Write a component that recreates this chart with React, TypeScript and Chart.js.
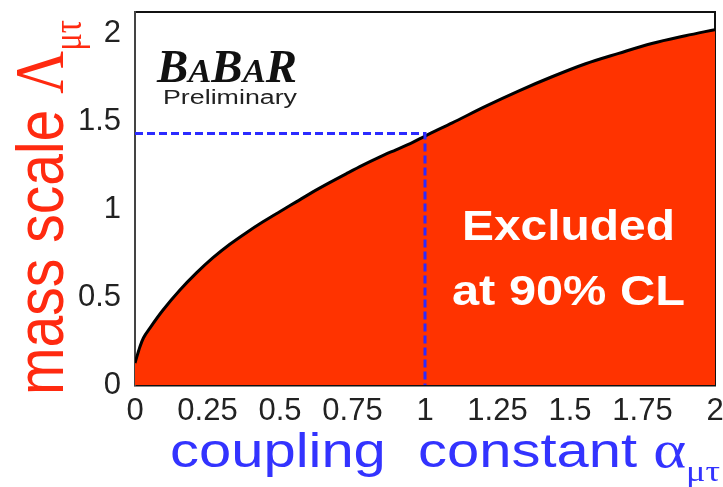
import React, { useEffect, useRef } from "react";
import { Chart, registerables } from "chart.js";

Chart.register(...registerables);

// Coupling constant alpha_mu-tau (x) and excluded mass-scale limit Lambda_mu-tau (y)
const alphaValues = [0, 0.017, 0.029, 0.052, 0.096, 0.155, 0.212, 0.268, 0.327, 0.384, 0.44, 0.499, 0.556, 0.612, 0.671, 0.728, 0.784, 0.843, 0.9, 0.956, 1.0, 1.094, 1.21, 1.324, 1.438, 1.554, 1.668, 1.782, 1.898, 2.0];
const lambdaLimit = [0.125, 0.218, 0.267, 0.325, 0.425, 0.54, 0.637, 0.722, 0.8, 0.866, 0.926, 0.985, 1.041, 1.096, 1.15, 1.2, 1.248, 1.295, 1.337, 1.378, 1.415, 1.49, 1.585, 1.672, 1.752, 1.826, 1.885, 1.941, 1.985, 2.02];

// Dashed guide: alpha = 1 -> Lambda
const guideAlpha = [0, 1, 1];
const guideLambda = [1.43, 1.43, 0];

// Axis ranges and tick steps
const xMin = 0;
const xMax = 2;
const yMin = 0;
const yMax = 2.12;
const xTickStep = 0.25;
const yTickStep = 0.5;

type Part = { text: string; font: string; dy?: number };

function drawParts(ctx: CanvasRenderingContext2D, parts: Part[], color: string, targetLen: number, sy: number) {
  let total = 0;
  const widths: number[] = [];
  for (const p of parts) {
    ctx.font = p.font;
    const w = ctx.measureText(p.text).width;
    widths.push(w);
    total += w;
  }
  const sx = targetLen / total;
  ctx.save();
  ctx.scale(sx, sy);
  ctx.fillStyle = color;
  ctx.textAlign = "left";
  ctx.textBaseline = "alphabetic";
  let x = 0;
  parts.forEach((p, i) => {
    ctx.font = p.font;
    ctx.fillText(p.text, x, p.dy || 0);
    x += widths[i];
  });
  ctx.restore();
}

const textPlugin = {
  id: "texts",
  afterDraw(chart: any) {
    const ctx: CanvasRenderingContext2D = chart.ctx;
    // BABAR logo
    ctx.save();
    ctx.translate(157, 82);
    const big = "italic bold 46px 'Liberation Serif', 'Times New Roman', serif";
    const small = "italic bold 34px 'Liberation Serif', 'Times New Roman', serif";
    drawParts(ctx, [
      { text: "B", font: big },
      { text: "A", font: small },
      { text: "B", font: big },
      { text: "A", font: small },
      { text: "R", font: big },
    ], "#111", 140, 1);
    ctx.restore();
    ctx.save();
    ctx.translate(163, 104);
    drawParts(ctx, [{ text: "Preliminary", font: "20px 'Liberation Sans', Arial, sans-serif" }], "#222", 134, 1);
    ctx.restore();

    // Excluded text
    ctx.save();
    ctx.translate(462, 240);
    drawParts(ctx, [{ text: "Excluded", font: "bold 42px 'Liberation Sans', Arial, sans-serif" }], "#ffffff", 213, 1);
    ctx.restore();
    ctx.save();
    ctx.translate(452, 305);
    drawParts(ctx, [{ text: "at 90% CL", font: "bold 42px 'Liberation Sans', Arial, sans-serif" }], "#ffffff", 233, 1);
    ctx.restore();

    // x title
    ctx.save();
    ctx.translate(170, 467);
    drawParts(ctx, [
      { text: "coupling  constant ", font: "48px 'Liberation Sans', Arial, sans-serif" },
      { text: "α", font: "52px 'Liberation Serif', 'Times New Roman', serif" },
      { text: "μτ", font: "30px 'Liberation Serif', 'Times New Roman', serif", dy: 14 },
    ], "#3333ff", 550, 1);
    ctx.restore();

    // y title (rotated)
    ctx.save();
    ctx.translate(63, 395);
    ctx.rotate(-Math.PI / 2);
    drawParts(ctx, [
      { text: "mass scale ", font: "52px 'Liberation Sans', Arial, sans-serif" },
      { text: "Λ", font: "54px 'Liberation Serif', 'Times New Roman', serif" },
      { text: "μτ", font: "30px 'Liberation Serif', 'Times New Roman', serif", dy: 14 },
    ], "#ff2a10", 375, 1.3);
    ctx.restore();
  },
};

const labelFont = { family: "'Liberation Sans', Arial, sans-serif", size: 31 };

const frameGrid = { display: true, drawOnChartArea: false, drawTicks: false };

export default function App() {
  const ref = useRef<HTMLCanvasElement>(null);
  useEffect(() => {
    const canvas = ref.current;
    if (!canvas) return;
    const limitData = alphaValues.map((a, i) => ({ x: a, y: lambdaLimit[i] }));
    const guideData = guideAlpha.map((a, i) => ({ x: a, y: guideLambda[i] }));
    const fmt = (v: any) => String(Math.round(Number(v) * 100) / 100);
    const chart = new Chart(canvas, {
      type: "line",
      data: {
        datasets: [
          {
            data: guideData,
            borderColor: "#2b2bff",
            borderWidth: 3,
            borderDash: [8, 4],
            pointRadius: 0,
            fill: false,
            order: 0,
            xAxisID: "x",
            yAxisID: "y",
          } as any,
          {
            data: limitData,
            borderColor: "#000",
            borderWidth: 3,
            backgroundColor: "#ff3300",
            fill: "origin",
            pointRadius: 0,
            cubicInterpolationMode: "monotone",
            order: 1,
            xAxisID: "x",
            yAxisID: "y",
          } as any,
        ],
      },
      options: {
        animation: false,
        responsive: false,
        events: [],
        layout: { padding: { top: 12, right: 8, left: 0, bottom: 0 } },
        plugins: { legend: { display: false }, tooltip: { enabled: false } },
        scales: {
          x: {
            type: "linear",
            position: "bottom",
            min: xMin,
            max: xMax,
            grid: frameGrid,
            border: { display: true, color: "#111", width: 2.5 },
            ticks: {
              stepSize: xTickStep,
              autoSkip: false,
              maxRotation: 0,
              padding: 8,
              color: "#222",
              font: labelFont,
              callback: fmt,
            },
            afterFit: (s: any) => {
              s.height = 102;
              s.paddingLeft = 0;
              s.paddingRight = 0;
            },
          },
          xTop: {
            type: "linear",
            axis: "x",
            position: "top",
            min: xMin,
            max: xMax,
            grid: frameGrid,
            border: { display: true, color: "#111", width: 2 },
            ticks: { display: false, stepSize: xTickStep },
          },
          y: {
            type: "linear",
            position: "left",
            min: yMin,
            max: yMax,
            grid: frameGrid,
            border: { display: true, color: "#444", width: 2 },
            ticks: {
              stepSize: yTickStep,
              includeBounds: false,
              padding: 14,
              color: "#222",
              font: labelFont,
              callback: fmt,
            },
            afterFit: (s: any) => {
              s.width = 135;
              s.paddingTop = 0;
              s.paddingBottom = 0;
            },
          },
          yRight: {
            type: "linear",
            axis: "y",
            position: "right",
            min: yMin,
            max: yMax,
            grid: frameGrid,
            border: { display: true, color: "#111", width: 2 },
            ticks: { display: false, stepSize: yTickStep },
          },
        },
      } as any,
      plugins: [textPlugin],
    });
    return () => chart.destroy();
  }, []);
  return (
    <div style={{ position: "fixed", left: 0, top: 0, width: 723, height: 487, background: "#fff" }}>
      <canvas ref={ref} width={723} height={487} style={{ display: "block" }} />
    </div>
  );
}
